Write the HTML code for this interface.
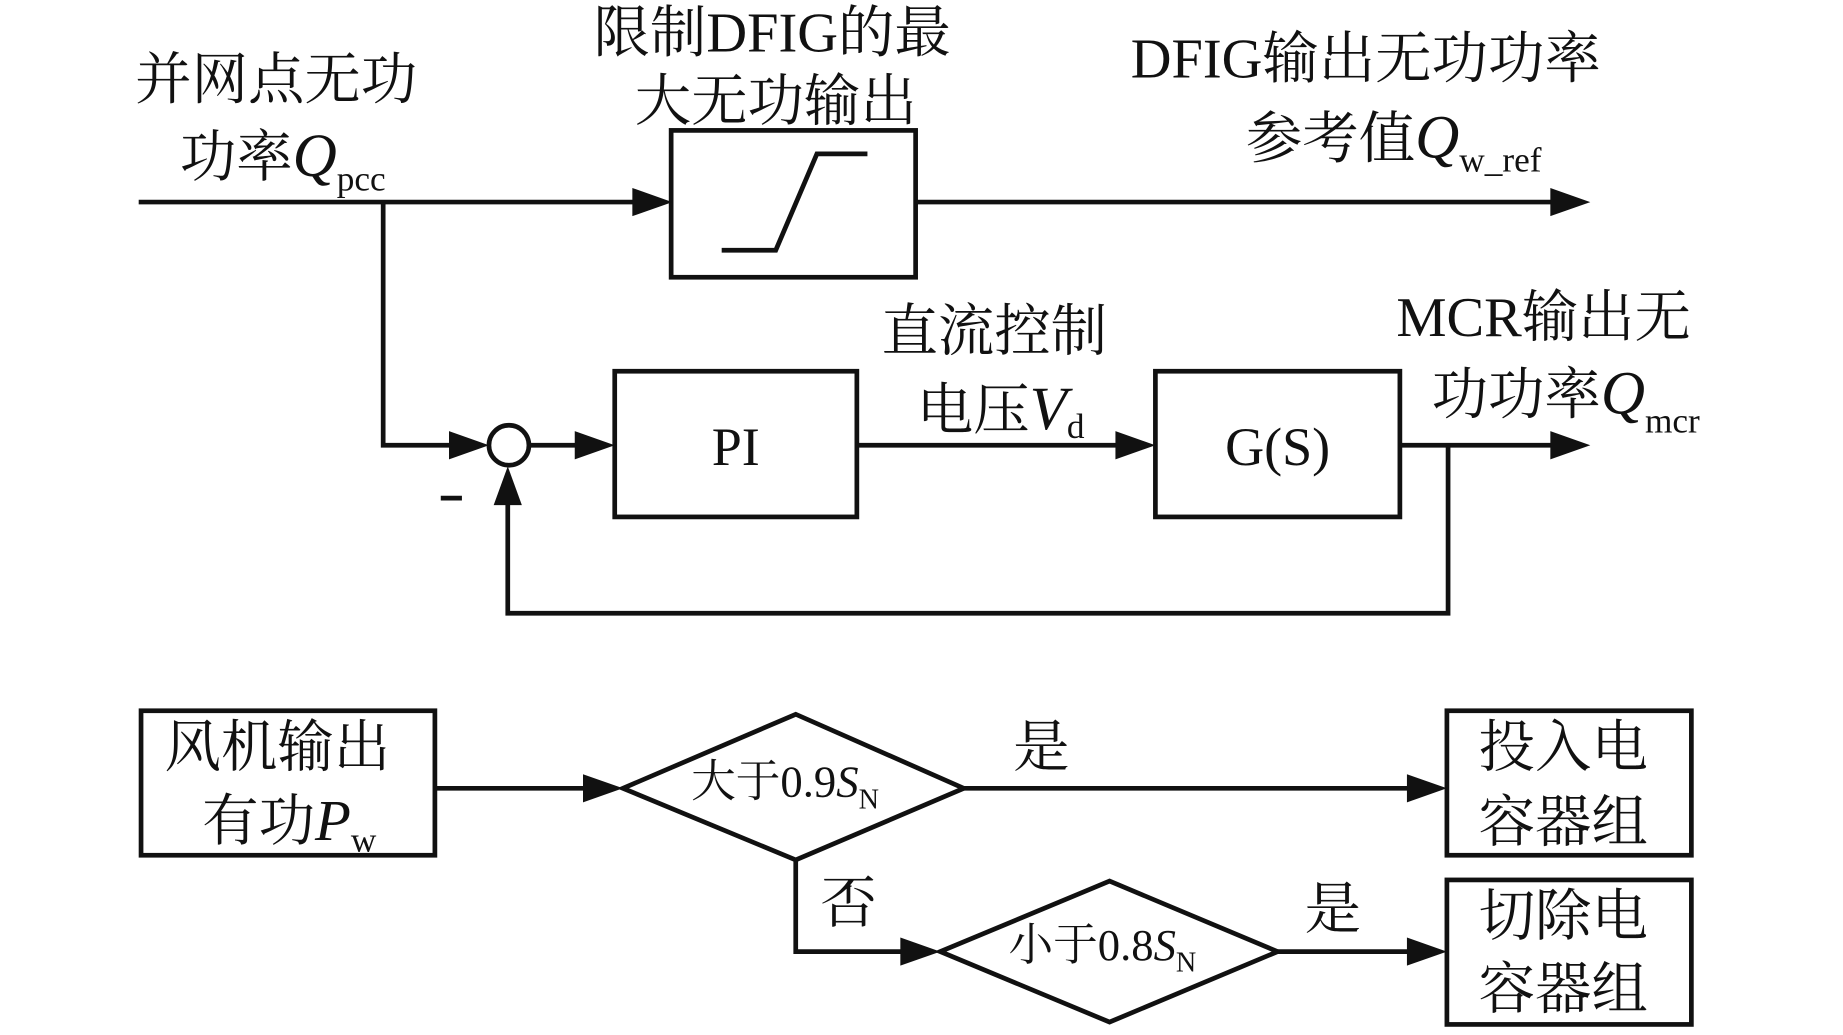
<!DOCTYPE html>
<html><head><meta charset="utf-8"><style>
html,body{margin:0;padding:0;background:#fff;}
svg{display:block;}
text{font-family:"Liberation Serif","Noto Serif CJK SC",serif;fill:#111;}
.c{font-size:48px;}
.s{font-size:30px;}
.i{font-style:italic;}
</style></head><body>
<svg width="1843" height="1035" viewBox="0 0 1568 881" preserveAspectRatio="none" xmlns="http://www.w3.org/2000/svg">
<defs>
<marker id="a" viewBox="0 0 10 10" refX="10" refY="5" markerWidth="8.5" markerHeight="6.5" markerUnits="userSpaceOnUse" orient="auto"></marker>
</defs>
<g stroke="#111" stroke-width="4" fill="none">
<!-- top line -->
<line x1="118" y1="172" x2="545" y2="172"/>
<rect x="571" y="111" width="208" height="125"/>
<polyline points="614,213 660,213 695,131 738,131"/>
<line x1="779" y1="172" x2="1325" y2="172"/>
<!-- branch -->
<polyline points="326,172 326,379 390,379"/>
<circle cx="433" cy="379" r="17"/>
<line x1="450" y1="379" x2="498" y2="379"/>
<rect x="523" y="316" width="206" height="124"/>
<line x1="729" y1="379" x2="958" y2="379"/>
<rect x="983" y="316" width="208" height="124"/>
<line x1="1191" y1="379" x2="1325" y2="379"/>
<polyline points="1232,379 1232,522 432,522 432,425"/>
<line x1="375" y1="424" x2="393" y2="424"/>
<!-- bottom -->
<rect x="120" y="605" width="250" height="123"/>
<line x1="370" y1="671" x2="505" y2="671"/>
<polygon points="530,671 677,608 820,671 677,732"/>
<line x1="820" y1="671" x2="1205" y2="671"/>
<rect x="1231" y="605" width="208" height="123"/>
<polyline points="677,732 677,810 775,810"/>
<polygon points="800,810 944,750 1087,810 944,870"/>
<line x1="1087" y1="810" x2="1205" y2="810"/>
<rect x="1231" y="749" width="208" height="123"/>
</g>
<g fill="#111">
<polygon points="572,172 538,160 538,184"/>
<polygon points="1353,172 1319,160 1319,184"/>
<polygon points="416,379 382,367 382,391"/>
<polygon points="523,379 489,367 489,391"/>
<polygon points="983,379 949,367 949,391"/>
<polygon points="1353,379 1319,367 1319,391"/>
<polygon points="432,397 420,430 444,430"/>
<polygon points="530,671 496,659 496,683"/>
<polygon points="1231,671 1197,659 1197,683"/>
<polygon points="800,810 766,798 766,822"/>
<polygon points="1231,810 1197,798 1197,822"/>
</g>
<text class="c" x="115" y="84">并网点无功</text>
<text class="c" x="153" y="150">功率<tspan class="i" font-size="52">Q</tspan><tspan class="s" dy="12">pcc</tspan></text>
<text class="c" x="505" y="44">限制DFIG的最</text>
<text class="c" x="540" y="102">大无功输出</text>
<text class="c" x="962" y="66">DFIG输出无功功率</text>
<text class="c" x="1060" y="134">参考值<tspan class="i" font-size="52">Q</tspan><tspan class="s" dy="12">w_ref</tspan></text>
<text class="c" x="750" y="298">直流控制</text>
<text class="c" x="780" y="365">电压<tspan class="i" font-size="52">V</tspan><tspan class="s" dy="8">d</tspan></text>
<text class="c" x="1188" y="286">MCR输出无</text>
<text class="c" x="1218" y="352">功功率<tspan class="i" font-size="52">Q</tspan><tspan class="s" dy="16">mcr</tspan></text>
<text x="626" y="396" font-size="46" text-anchor="middle">PI</text>
<text x="1087" y="396" font-size="46" text-anchor="middle">G(S)</text>
<text class="c" x="140" y="652">风机输出</text>
<text class="c" x="172" y="715">有功<tspan class="i" font-size="50">P</tspan><tspan class="s" dy="10">w</tspan></text>
<text x="588" y="678" font-size="38">大于0.9<tspan class="i">S</tspan><tspan font-size="24" dy="10">N</tspan></text>
<text class="c" x="862" y="652">是</text>
<text class="c" x="1258" y="652">投入电</text>
<text class="c" x="1258" y="716">容器组</text>
<text class="c" x="698" y="785">否</text>
<text x="858" y="817" font-size="38">小于0.8<tspan class="i">S</tspan><tspan font-size="24" dy="10">N</tspan></text>
<text class="c" x="1110" y="790">是</text>
<text class="c" x="1258" y="796">切除电</text>
<text class="c" x="1258" y="858">容器组</text>
</svg>
</body></html>
